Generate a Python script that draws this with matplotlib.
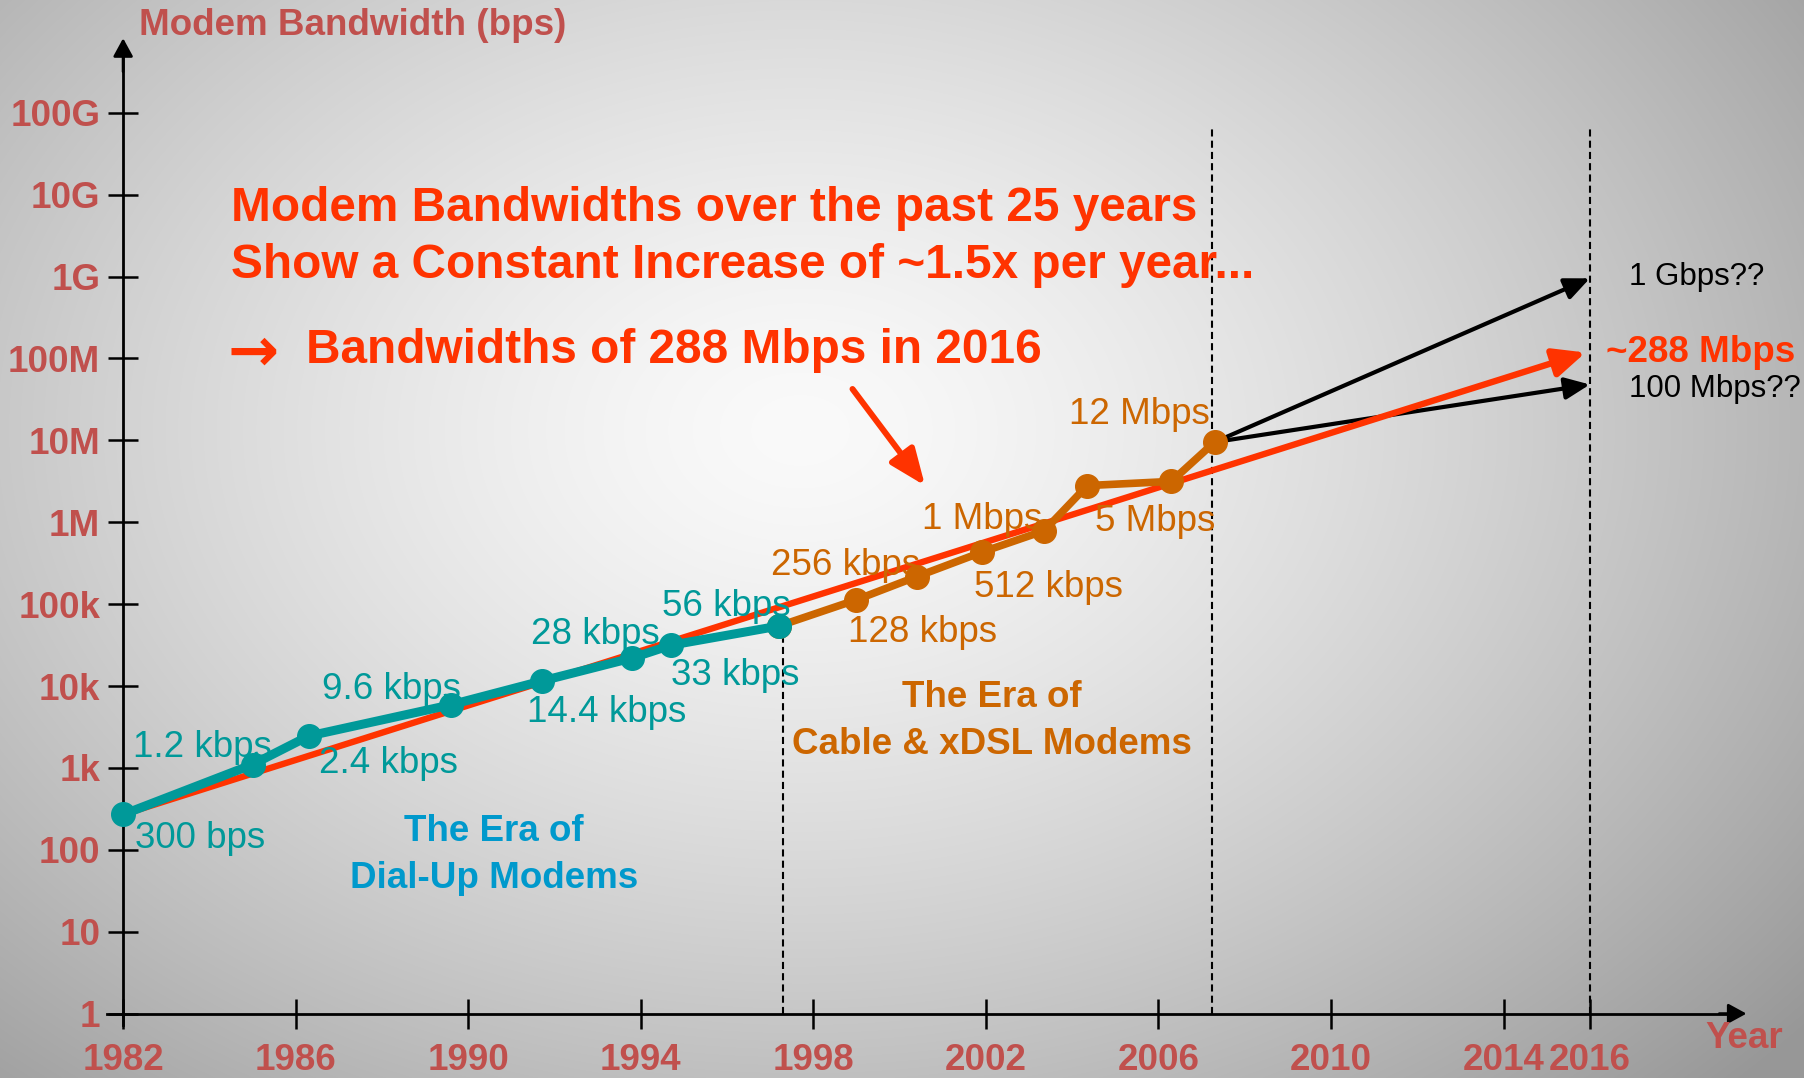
import numpy as np
import matplotlib
matplotlib.use("Agg")
import matplotlib.pyplot as plt
from matplotlib.ticker import NullLocator

# ---------------- data ----------------
dialup_years = [1982.0, 1985.0, 1986.3, 1989.6, 1991.7, 1993.8, 1994.7, 1997.2]
dialup_bps = [270, 1100, 2450, 5900, 11500, 22000, 31500, 54000]
dialup_labels = ["300 bps", "1.2 kbps", "2.4 kbps", "9.6 kbps",
                 "14.4 kbps", "28 kbps", "33 kbps", "56 kbps"]

broadband_years = [1997.2, 1999.0, 2000.4, 2001.9, 2003.35, 2004.35, 2006.3, 2007.3]
broadband_bps = [54000, 113000, 217000, 430000, 787000, 2.8e6, 3.15e6, 9.5e6]
broadband_labels = ["", "128 kbps", "256 kbps", "512 kbps", "1 Mbps", "", "5 Mbps", "12 Mbps"]

trend_years = [1982.0, 2015.9]
trend_bps = [270, 1.18e8]
trend_label = "~288 Mbps"

proj_years = [2016.0, 2016.0]
proj_bps = [9.5e8, 4.8e7]
proj_labels = ["1 Gbps??", "100 Mbps??"]

era_boundaries = [1997.3, 2007.25, 2016.0]

xtick_years = [1982, 1986, 1990, 1994, 1998, 2002, 2006, 2010, 2014, 2016]
ytick_values = [1, 10, 100, 1e3, 1e4, 1e5, 1e6, 1e7, 1e8, 1e9, 1e10, 1e11]
ytick_labels = ["1", "10", "100", "1k", "10k", "100k", "1M", "10M", "100M", "1G", "10G", "100G"]

# ---------------- style ----------------
TEAL = "#009999"
ORANGE = "#CC6600"
RED = "#FF3300"
AXRED = "#C0504D"
BLUE = "#0099CC"
plt.rcParams["font.family"] = ["Liberation Sans", "DejaVu Sans"]

W, H = 1804, 1078
fig = plt.figure(figsize=(W / 100, H / 100), dpi=100)

# background radial gradient
bg = fig.add_axes([0, 0, 1, 1], zorder=-10)
bg.axis("off")
yy, xx = np.mgrid[0:H, 0:W]
r = np.sqrt(((xx - 800) / 1000.0) ** 2 + ((yy - 430) / 720.0) ** 2)
g = (250 - 68 * np.clip(r, 0, 1.3) ** 1.4) / 255.0
bg.imshow(np.dstack([g, g, g]), aspect="auto", interpolation="bilinear")


def fpx(x, y):
    """full-size pixel (from top-left) -> figure fraction"""
    return x / W, 1 - y / H


ax = fig.add_axes([0, 0, 1, 1])
ax.patch.set_alpha(0)
ax.set_yscale("log")
ax.set_xlim(1979.146, 2020.964)
ax.set_ylim(10 ** -0.786, 10 ** 12.376)

for s in ("top", "right"):
    ax.spines[s].set_visible(False)
ax.spines["left"].set_position(("data", 1982))
ax.spines["bottom"].set_position(("data", 1))
ax.spines["left"].set_bounds(10 ** -0.136, 10 ** 11.75)
ax.spines["bottom"].set_bounds(1981.63, 2019.3)
ax.spines["left"].set_linewidth(2.0)
ax.spines["bottom"].set_linewidth(2.0)

ax.yaxis.set_minor_locator(NullLocator())
ax.xaxis.set_minor_locator(NullLocator())
ax.set_yticks(ytick_values, labels=ytick_labels, fontsize=26.5, fontweight="bold", color=AXRED)
ax.set_xticks(xtick_years, labels=[str(y) for y in xtick_years], fontsize=26.5,
              fontweight="bold", color=AXRED)
ax.tick_params(axis="both", which="major", direction="inout", length=22, width=1.8, colors="black")
ax.tick_params(axis="y", pad=5.5, labelcolor=AXRED)
ax.tick_params(axis="x", pad=10.5, labelcolor=AXRED)

# axis arrowheads
ax.annotate("", xy=(1982, 10 ** 11.909), xytext=(1982, 10 ** 11.5),
            arrowprops=dict(arrowstyle="-|>,head_length=0.55,head_width=0.3",
                            mutation_scale=20, color="black", lw=2, shrinkA=0, shrinkB=0))
ax.annotate("", xy=(2019.63, 1), xytext=(2019.0, 1),
            arrowprops=dict(arrowstyle="-|>,head_length=0.55,head_width=0.3",
                            mutation_scale=20, color="black", lw=2, shrinkA=0, shrinkB=0))

# era boundaries
ax.vlines(era_boundaries[0], 1, dialup_bps[-1], colors="black", lw=1.5,
          linestyles=(0, (3.4, 2.0)), zorder=2)
ax.vlines(era_boundaries[1:], 1, 10 ** 10.83, colors="black", lw=1.5,
          linestyles=(0, (3.4, 2.0)), zorder=2)

# projections (black arrows)
for py, pb in zip(proj_years, proj_bps):
    ax.annotate("", xy=(py, pb), xytext=(broadband_years[-1], broadband_bps[-1]),
                arrowprops=dict(arrowstyle="-|>,head_length=0.75,head_width=0.33",
                                mutation_scale=20, color="black", lw=3.0,
                                shrinkA=0, shrinkB=0), zorder=3)

# trend line
ax.annotate("", xy=(trend_years[1], trend_bps[1]), xytext=(trend_years[0], trend_bps[0]),
            arrowprops=dict(arrowstyle="-|>,head_length=0.95,head_width=0.43",
                            mutation_scale=20, color=RED, lw=4.6,
                            shrinkA=0, shrinkB=0), zorder=4)

# series
ax.plot(broadband_years, broadband_bps, color=ORANGE, lw=5.5, marker="o", ms=17,
        zorder=5, solid_capstyle="round")
ax.plot(dialup_years, dialup_bps, color=TEAL, lw=6.5, marker="o", ms=17,
        zorder=6, solid_capstyle="round")

# point labels (offsets in points, baseline-aligned)
k = 0.8284
dial_off = [(10.7, 28.9), (-103.7, -6.8), (8.7, 32.0), (-112.1, -4.9),
            (-12.3, 35.6), (-88.3, -12.0), (-0.4, 35.0), (-101.3, -8.4)]
for x, y, lab, (dx, dy) in zip(dialup_years, dialup_bps, dialup_labels, dial_off):
    ax.annotate(lab, (x, y), xytext=(dx * k, -dy * k), textcoords="offset points",
                ha="left", va="baseline", fontsize=26.5, color=TEAL, zorder=7)

bb_off = [(0, 0), (-7.4, 36.8), (-126.8, -1.1), (-6.9, 38.7), (-105.9, -1.9),
          (0, 0), (-66.0, 42.9), (-126.1, -15.6)]
for x, y, lab, (dx, dy) in zip(broadband_years, broadband_bps, broadband_labels, bb_off):
    if lab:
        ax.annotate(lab, (x, y), xytext=(dx * k, -dy * k), textcoords="offset points",
                    ha="left", va="baseline", fontsize=26.5, color=ORANGE, zorder=7)

# era names
fig.text(*fpx(494.3, 841.0), "The Era of", ha="center", va="baseline", fontsize=26.5,
         fontweight="bold", color=BLUE)
fig.text(*fpx(494.3, 888.5), "Dial-Up Modems", ha="center", va="baseline", fontsize=26.5,
         fontweight="bold", color=BLUE)
fig.text(*fpx(991.7, 707.0), "The Era of", ha="center", va="baseline", fontsize=26.5,
         fontweight="bold", color=ORANGE)
fig.text(*fpx(991.7, 754.5), "Cable & xDSL Modems", ha="center", va="baseline", fontsize=26.5,
         fontweight="bold", color=ORANGE)

# projection labels
fig.text(*fpx(1629, 285), proj_labels[0], ha="left", va="baseline", fontsize=22.5, color="black")
fig.text(*fpx(1629, 396.7), proj_labels[1], ha="left", va="baseline", fontsize=22.5, color="black")
fig.text(*fpx(1606.5, 361.7), trend_label, ha="left", va="baseline", fontsize=26.5,
         fontweight="bold", color=RED)

# headline
fig.text(*fpx(231, 220.7), "Modem Bandwidths over the past 25 years", ha="left",
         va="baseline", fontsize=34.4, fontweight="bold", color=RED)
fig.text(*fpx(231, 277.7), "Show a Constant Increase of ~1.5x per year...", ha="left",
         va="baseline", fontsize=34.4, fontweight="bold", color=RED)
fig.text(*fpx(253, 347.5), "\u2192", ha="center", va="center_baseline", fontsize=44,
         fontweight="bold", color=RED, family=["Noto Sans", "DejaVu Sans"])
fig.text(*fpx(306, 363.3), "Bandwidths of 288 Mbps in 2016", ha="left",
         va="baseline", fontsize=34.4, fontweight="bold", color=RED)
ax.annotate("", xy=(925, H - 485.6), xytext=(852.5, H - 389), xycoords="figure pixels",
            textcoords="figure pixels",
            arrowprops=dict(arrowstyle="-|>,head_length=1.1,head_width=0.45",
                            mutation_scale=20, color=RED, lw=4.3, shrinkA=0, shrinkB=0))

# axis titles
fig.text(*fpx(139, 35), "Modem Bandwidth (bps)", ha="left", va="baseline", fontsize=26.5,
         fontweight="bold", color=AXRED)
fig.text(*fpx(1705, 1048), "Year", ha="left", va="baseline", fontsize=26.5,
         fontweight="bold", color=AXRED)

fig.savefig("out.png", dpi=100)
